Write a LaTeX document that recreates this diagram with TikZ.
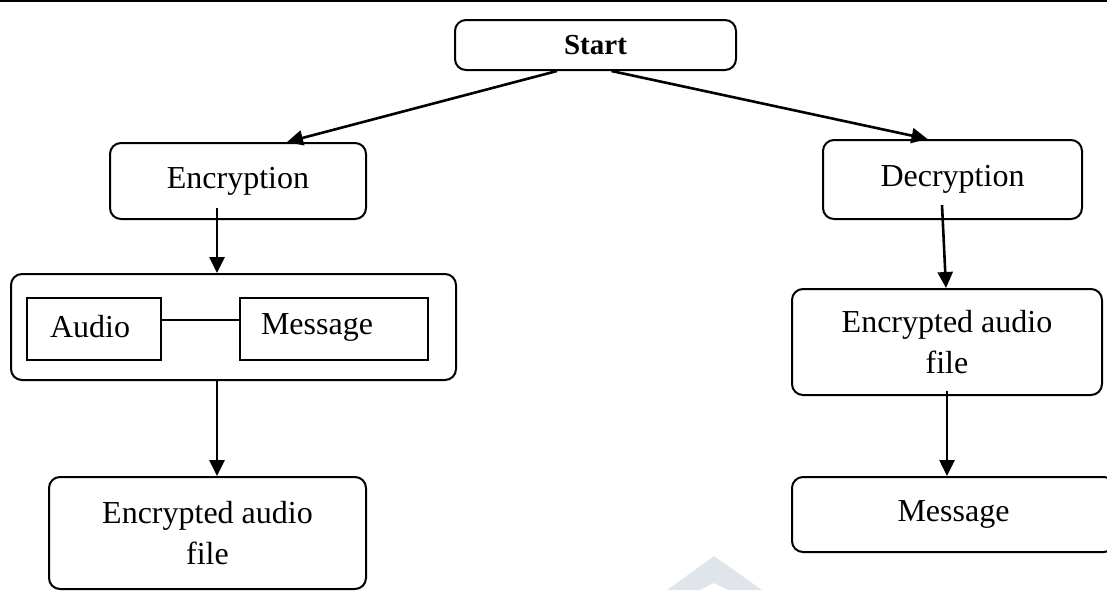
\documentclass[tikz,border=0pt]{standalone}
\usepackage{fontspec}
\setmainfont{Liberation Serif}
\usetikzlibrary{arrows.meta,calc}
\definecolor{wmark}{RGB}{223,229,234}
\tikzset{
  rbox/.style={draw, line width=2pt, rounded corners=11pt, inner sep=0pt, align=center,
    font=\fontsize{32}{41}\selectfont},
  sbox/.style={draw, line width=2pt, inner sep=0pt},
  lbl/.style={inner sep=0pt, font=\fontsize{32}{41}\selectfont},
  arr/.style={line width=2.6pt, -{Triangle[length=16pt,width=15pt]}},
}
\begin{document}
\begin{tikzpicture}[x=1pt,y=-1pt]
\useasboundingbox (0,0) rectangle (1107,590);
% watermark
\fill[wmark] (714,556) -- (762,590) -- (728,590) -- (714,583) -- (700,590) -- (667,590) -- cycle;
% top rule
\draw[line width=2.4pt] (0,1) -- (1107,1);
% nodes
\node[rbox, minimum width=281, minimum height=50, font=\fontsize{29}{41}\selectfont\bfseries] (start) at (595.5,45) {Start};
\node[rbox, minimum width=256, minimum height=76] (enc) at (238,181) {Encryption};
\node[rbox, minimum width=445, minimum height=106] (grp) at (233.5,327) {};
\node[sbox, minimum width=134, minimum height=62] (audio) at (94,329) {};
\node[lbl] (audiot) at (90,327) {Audio};
\node[sbox, minimum width=188, minimum height=62] (msgl) at (334,329) {};
\node[lbl] (msglt) at (317,327) {Message};
\node[rbox, minimum width=317, minimum height=112] (leaf) at (207.5,533) {Encrypted audio\\file};
\node[rbox, minimum width=259, minimum height=79] (dec) at (952.5,179.5) {Decryption};
\node[rbox, minimum width=310, minimum height=106] (reaf) at (947,342) {Encrypted audio\\file};
\node[rbox, minimum width=323, minimum height=75] (msgr) at (953.5,514.5) {Message};
% connectors
\draw[line width=2pt] (audio.east |- 0,320) -- (msgl.west |- 0,320);
\draw[arr] ([xshift=-38.5pt]start.south) -- ([xshift=49pt]enc.north);
\draw[arr] ([xshift=16pt]start.south) -- ([xshift=-25pt]dec.north);
\draw[arr] ([xshift=-21pt,yshift=12pt]enc.south) -- ([xshift=-16.5pt]grp.north);
\draw[arr] ([xshift=-16.5pt]grp.south) -- ([xshift=9.5pt]leaf.north);
\draw[arr] ([xshift=-10.5pt,yshift=15pt]dec.south) -- ([xshift=-1pt]reaf.north);
\draw[arr] ([yshift=5pt]reaf.south) -- ([xshift=-6.5pt]msgr.north);
\end{tikzpicture}
\end{document}
